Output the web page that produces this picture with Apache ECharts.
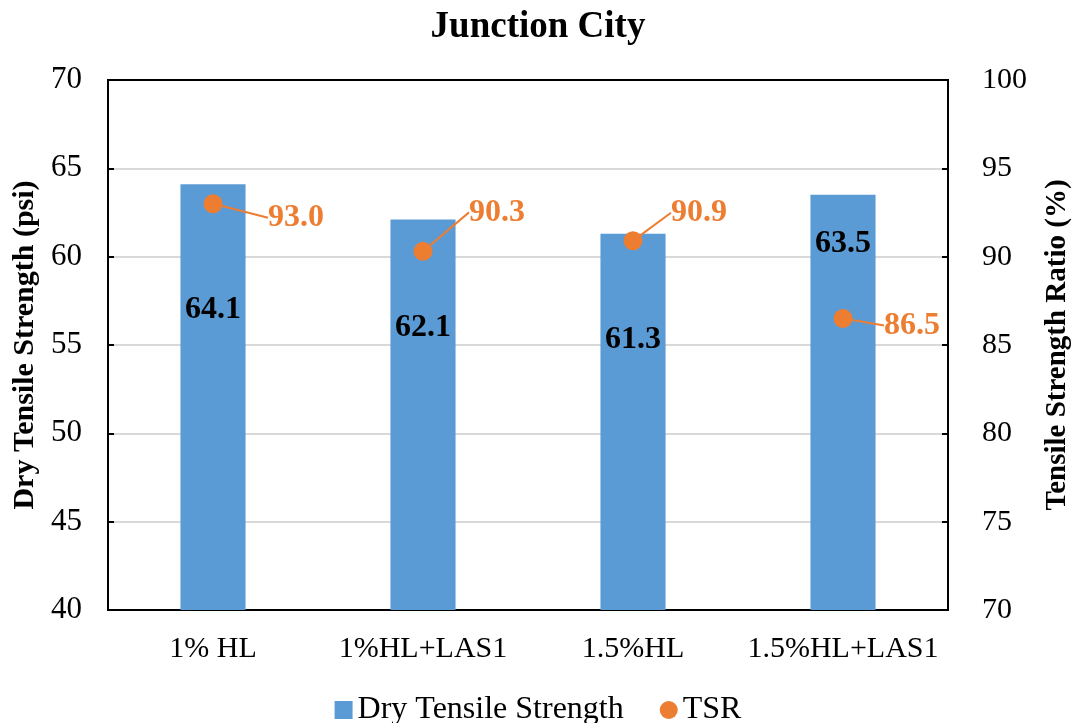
<!DOCTYPE html>
<html>
<head>
<meta charset="utf-8">
<script src="https://cdn.jsdelivr.net/npm/echarts@6/dist/echarts.min.js"></script>
<style>
  html, body { margin: 0; padding: 0; background: #fff; }
  #chart-container { width: 1076px; height: 723px; }
</style>
</head>
<body>
<div id="chart-container"></div>
<script>
var categories = ['1% HL', '1%HL+LAS1', '1.5%HL', '1.5%HL+LAS1'];
var dryStrength = [64.1, 62.1, 61.3, 63.5];
var tsr = [93.0, 90.3, 90.9, 86.5];

// hand placed label offsets, as in the original
var barLabelDist = [110, 92, 90, 33];
var tsrLabelShift = [[83, 14], [74, -39], [66, -28], [69, 7]];

var font = '"Liberation Serif", "Times New Roman", serif';

var dom = document.getElementById('chart-container');
var myChart = echarts.init(dom, null, { renderer: 'canvas' });

var barData = dryStrength.map(function (v, i) {
  return { value: v, label: { distance: barLabelDist[i] } };
});

var option = {
  backgroundColor: '#fff',
  textStyle: { fontFamily: font },
  title: {
    text: 'Junction City',
    left: 'center',
    top: 4,
    textStyle: { fontFamily: font, fontSize: 37, fontWeight: 'bold', color: '#000' }
  },
  legend: {
    bottom: -8,
    left: 'center',
    itemGap: 36,
    itemWidth: 18,
    itemHeight: 18,
    textStyle: { fontFamily: font, fontSize: 32, color: '#000' },
    data: [
      { name: 'Dry Tensile Strength', icon: 'rect' },
      { name: 'TSR', icon: 'circle' }
    ]
  },
  grid: {
    left: 108, right: 128, top: 80, bottom: 113,
    outerBoundsMode: 'none',
    containLabel: false,
    show: true, borderColor: '#000', borderWidth: 2
  },
  xAxis: [
    {
      type: 'category',
      data: categories,
      axisTick: { show: false },
      axisLine: { lineStyle: { color: '#000', width: 2 } },
      axisLabel: { fontFamily: font, fontSize: 30, color: '#000', margin: 24, interval: 0 }
    },
    {
      // top frame line
      type: 'category',
      position: 'top',
      data: categories,
      axisTick: { show: false },
      axisLabel: { show: false },
      axisLine: { show: true, lineStyle: { color: '#000', width: 2 } }
    }
  ],
  yAxis: [
    {
      type: 'value',
      min: 40, max: 70, interval: 5,
      name: 'Dry Tensile Strength (psi)',
      nameLocation: 'middle',
      nameGap: 66,
      nameTextStyle: { fontFamily: font, fontSize: 30, fontWeight: 'bold', color: '#000' },
      axisLine: { show: true, lineStyle: { color: '#000', width: 2 } },
      axisTick: { show: true, inside: true, length: 6, lineStyle: { color: '#000', width: 2 } },
      axisLabel: { fontFamily: font, fontSize: 31, color: '#000', margin: 26 },
      splitLine: { showMaxLine: false, lineStyle: { color: '#d9d9d9', width: 2 } }
    },
    {
      type: 'value',
      min: 70, max: 100, interval: 5,
      name: 'Tensile Strength Ratio (%)',
      nameLocation: 'middle',
      nameGap: 95,
      nameTextStyle: { fontFamily: font, fontSize: 29, fontWeight: 'bold', color: '#000' },
      axisLine: { show: true, lineStyle: { color: '#000', width: 2 } },
      axisTick: { show: true, inside: true, length: 6, lineStyle: { color: '#000', width: 2 } },
      axisLabel: { fontFamily: font, fontSize: 30, color: '#000', margin: 34 },
      splitLine: { show: false }
    }
  ],
  series: [
    {
      name: 'Dry Tensile Strength',
      type: 'bar',
      data: barData,
      barWidth: '31%',
      itemStyle: { color: '#5b9bd5' },
      label: {
        show: true,
        position: 'insideTop',
        fontFamily: font,
        fontSize: 32,
        fontWeight: 'bold',
        color: '#000',
        formatter: function (p) { return p.value.toFixed(1); }
      }
    },
    {
      name: 'TSR',
      type: 'scatter',
      yAxisIndex: 1,
      data: tsr,
      symbolSize: 19,
      itemStyle: { color: '#ed7d31', opacity: 1 },
      z: 5,
      label: {
        show: true,
        position: 'inside',
        fontFamily: font,
        fontSize: 32,
        fontWeight: 'bold',
        color: '#ed7d31',
        formatter: function (p) { return p.value.toFixed(1); }
      },
      labelLine: { show: true, lineStyle: { color: '#ed7d31', width: 2 } },
      labelLayout: function (params) {
        var s = tsrLabelShift[params.dataIndex];
        return { dx: s[0], dy: s[1] };
      }
    }
  ]
};

myChart.setOption(option);
window.addEventListener('resize', myChart.resize);
</script>
</body>
</html>
